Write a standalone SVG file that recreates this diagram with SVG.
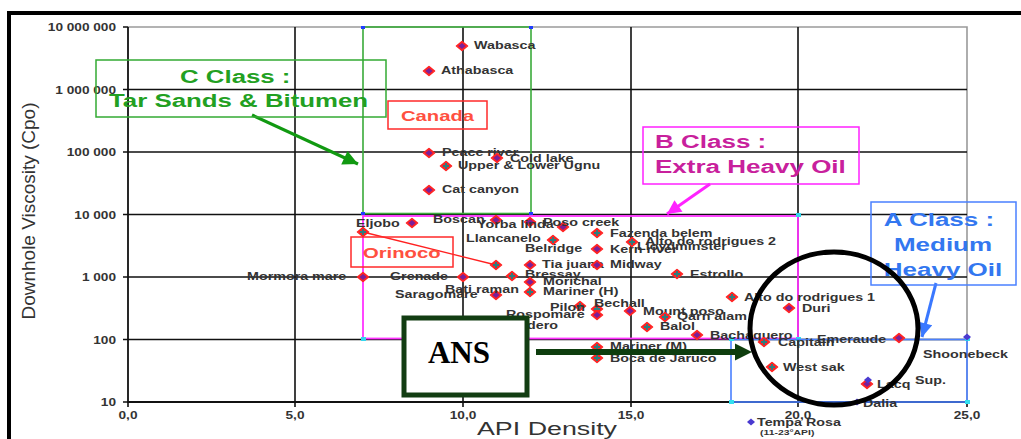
<svg xmlns="http://www.w3.org/2000/svg" xmlns:xlink="http://www.w3.org/1999/xlink" width="1021" height="439" viewBox="0 0 1021 439">
  <style>
    .tk { font: bold 10.5px "Liberation Sans", Arial, sans-serif; fill: #333; }
    .lb { font: bold 11px "Liberation Sans", Arial, sans-serif; fill: #333; }
    .lbs { font: bold 8px "Liberation Sans", Arial, sans-serif; fill: #333; }
    .grid { stroke: #111; stroke-width: 1.6; fill: none; }
    .cls { font-family: "Liberation Sans", Arial, sans-serif; font-weight: bold; font-size: 19px; }
    .reg { font-family: "Liberation Sans", Arial, sans-serif; font-weight: bold; font-size: 15px; }
  </style>
  <defs>
    <!-- data point markers: red body with purple or teal core -->
    <g id="pp">
      <path d="M0,-4.5 L5.5,0 L0,4.5 L-5.5,0Z" fill="#ff2424" stroke="#ff2424" stroke-width="1.6" stroke-linejoin="round"/>
      <path d="M0,-3 L3.6,0 L0,3 L-3.6,0Z" fill="#7a1f9a"/>
    </g>
    <g id="pt">
      <path d="M0,-4.5 L5.5,0 L0,4.5 L-5.5,0Z" fill="#ff2424" stroke="#ff2424" stroke-width="1.6" stroke-linejoin="round"/>
      <path d="M-3,0H3M0,-3V3" stroke="#2a7f80" stroke-width="1.8"/>
    </g>
    <path id="pb" d="M0,-3.5 L4,0 L0,3.5 L-4,0Z" fill="#4a3ad0"/>
    <marker id="ah-c" viewBox="0 0 10 10" refX="10" refY="5" markerWidth="18" markerHeight="15" markerUnits="userSpaceOnUse" orient="auto">
      <path d="M0,0 L10,5 L0,10Z" fill="#119911"/>
    </marker>
    <marker id="ah-b" viewBox="0 0 10 10" refX="10" refY="5" markerWidth="15" markerHeight="14" markerUnits="userSpaceOnUse" orient="auto">
      <path d="M0,0 L10,5 L0,10Z" fill="#ff22ff"/>
    </marker>
    <marker id="ah-a" viewBox="0 0 10 10" refX="10" refY="5" markerWidth="17" markerHeight="14" markerUnits="userSpaceOnUse" orient="auto">
      <path d="M0,0 L10,5 L0,10Z" fill="#3a78ff"/>
    </marker>
    <marker id="ah-ans" viewBox="0 0 10 10" refX="5.9" refY="5" markerWidth="17" markerHeight="18" markerUnits="userSpaceOnUse" orient="auto">
      <path d="M0,0 L10,5 L0,10Z" fill="#0e3d0e"/>
    </marker>
  </defs>

  <rect width="1021" height="439" fill="#fff"/>
  <!-- outer frame -->
  <path d="M9,439 V13 H1021" fill="none" stroke="#000" stroke-width="4"/>

  <!-- chart grid and axes -->
  <g id="axes">
    <path d="M128,27 H967 V402" fill="none" stroke="#9a9a9a" stroke-width="1.6"/>
    <path class="grid" d="M128,89.5H967M128,152H967M128,214.5H967M128,277H967M128,339.5H967"/>
    <path class="grid" d="M295,27V402M463,27V402M631,27V402M798,27V402"/>
    <path d="M128,27V402H967" fill="none" stroke="#111" stroke-width="1.8"/>
    <path d="M123,27H128M123,89.5H128M123,152H128M123,214.5H128M123,277H128M123,339.5H128M123,402H128M128,402V407M295,402V407M463,402V407M631,402V407M798,402V407M967,402V407" stroke="#111" stroke-width="1.6"/>
    <g class="tk" text-anchor="end">
      <text transform="translate(116 31) scale(1.3 1)">10 000 000</text>
      <text transform="translate(116 93.5) scale(1.3 1)">1 000 000</text>
      <text transform="translate(116 156) scale(1.3 1)">100 000</text>
      <text transform="translate(116 218.5) scale(1.3 1)">10 000</text>
      <text transform="translate(116 281) scale(1.3 1)">1 000</text>
      <text transform="translate(116 343.5) scale(1.3 1)">100</text>
      <text transform="translate(116 406) scale(1.3 1)">10</text>
    </g>
    <g class="tk" text-anchor="middle">
      <text transform="translate(128 419) scale(1.3 1)">0,0</text>
      <text transform="translate(295 419) scale(1.3 1)">5,0</text>
      <text transform="translate(463 419) scale(1.3 1)">10,0</text>
      <text transform="translate(631 419) scale(1.3 1)">15,0</text>
      <text transform="translate(798 419) scale(1.3 1)">20,0</text>
      <text transform="translate(967 419) scale(1.3 1)">25,0</text>
    </g>
    <text x="547" y="435" text-anchor="middle" textLength="140" lengthAdjust="spacingAndGlyphs" font-family="Liberation Sans, Arial, sans-serif" font-size="18" fill="#333">API Density</text>
    <text transform="translate(35 211) rotate(-90)" text-anchor="middle" textLength="217" lengthAdjust="spacingAndGlyphs" font-family="Liberation Sans, Arial, sans-serif" font-size="18" fill="#333">Downhole Viscosity (Cpo)</text>
  </g>

  <!-- class regions -->
  <g id="region-c">
    <rect x="363" y="27" width="168" height="186.5" fill="none" stroke="#3aaa3a" stroke-width="1.6"/>
    <path d="M361,26h4v3h-4zM529,26h4v3h-4zM361,212h4v3h-4zM529,212h4v3h-4z" fill="#1f3cff"/>
  </g>
  <g id="region-b">
    <rect x="363" y="216" width="435" height="122.5" fill="none" stroke="#ff33ff" stroke-width="1.8"/>
    <path d="M796,213h5v4h-5zM361,337h5v4h-5zM796,337h5v4h-5z" fill="#33d6ee"/>
  </g>
  <g id="region-a">
    <rect x="731" y="339.5" width="236" height="62.5" fill="none" stroke="#4a80ff" stroke-width="1.6"/>
    <path d="M729,337h5v4h-5zM965,337h5v4h-5zM729,400h5v4h-5zM965,400h5v4h-5z" fill="#33e0f0"/>
  </g>

  <!-- connectors -->
  <g id="connectors" fill="none">
    <line x1="363" y1="232" x2="496" y2="265" stroke="#ff2020" stroke-width="1.3"/>
    <line x1="252" y1="115" x2="358" y2="164" stroke="#119911" stroke-width="3.2" marker-end="url(#ah-c)"/>
    <line x1="710" y1="184" x2="667" y2="214" stroke="#ff22ff" stroke-width="3" marker-end="url(#ah-b)"/>
    <line x1="936" y1="283" x2="922" y2="337" stroke="#3a78ff" stroke-width="3" marker-end="url(#ah-a)"/>
  </g>

  <!-- oil fields -->
  <g id="fields">
    <g id="wabasca"><use href="#pp" x="462" y="46"/><text class="lb" transform="translate(474 49) scale(1.3 1)">Wabasca</text></g>
    <g id="athabasca"><use href="#pp" x="429" y="71"/><text class="lb" transform="translate(441 74) scale(1.3 1)">Athabasca</text></g>
    <g id="peace-river"><use href="#pp" x="429" y="153"/><text class="lb" transform="translate(442 156) scale(1.3 1)">Peace river</text></g>
    <g id="cold-lake"><use href="#pp" x="497" y="158"/><text class="lb" transform="translate(510 162) scale(1.3 1)">Cold lake</text></g>
    <g id="ugnu"><use href="#pt" x="446" y="166"/><text class="lb" transform="translate(458 169) scale(1.3 1)">Upper &amp; Lower Ugnu</text></g>
    <g id="cat-canyon"><use href="#pp" x="429" y="190"/><text class="lb" transform="translate(442 193) scale(1.3 1)">Cat canyon</text></g>
    <g id="boscan"><use href="#pp" x="496" y="220"/><text class="lb" transform="translate(433 223) scale(1.3 1)">Boscan</text></g>
    <g id="eljobo"><use href="#pp" x="412" y="223"/><text class="lb" transform="translate(356 227) scale(1.3 1)">Eljobo</text></g>
    <g id="orinoco-a"><use href="#pt" x="363" y="232"/></g>
    <g id="orinoco-b"><use href="#pt" x="496" y="265"/></g>
    <g id="yorba-linda"><use href="#pp" x="530" y="222"/><text class="lb" transform="translate(477 228) scale(1.3 1)">Yorba linda</text></g>
    <g id="poso-creek"><use href="#pp" x="563" y="227"/><text class="lb" transform="translate(543 226) scale(1.3 1)">Poso creek</text></g>
    <g id="fazenda-belem"><use href="#pt" x="597" y="233"/><text class="lb" transform="translate(610 237) scale(1.3 1)">Fazenda belem</text></g>
    <g id="llancanelo"><use href="#pt" x="553" y="240"/><text class="lb" transform="translate(466 242) scale(1.3 1)">Llancanelo</text></g>
    <g id="alto-2"><use href="#pt" x="632" y="242"/><text class="lb" transform="translate(645 245) scale(1.3 1)">Alto do rodrigues 2</text></g>
    <g id="belridge"><use href="#pp" x="597" y="249"/><text class="lb" transform="translate(525 252) scale(1.3 1)">Belridge</text></g>
    <g id="kern-river"><text class="lb" transform="translate(610 253) scale(1.3 1)">Kern river</text></g>
    <g id="lloydminster"><text class="lb" transform="translate(637 250) scale(1.3 1)">Lloydminster</text></g>
    <g id="tia-juana"><use href="#pp" x="530" y="265"/><text class="lb" transform="translate(542 268) scale(1.3 1)">Tia juana</text></g>
    <g id="midway"><use href="#pp" x="597" y="265"/><text class="lb" transform="translate(610 268) scale(1.3 1)">Midway</text></g>
    <g id="mormora-mare"><use href="#pp" x="363" y="277"/><text class="lb" transform="translate(247 280) scale(1.3 1)">Mormora mare</text></g>
    <g id="grenade"><use href="#pp" x="463" y="277"/><text class="lb" transform="translate(390 280) scale(1.3 1)">Grenade</text></g>
    <g id="bressay"><use href="#pt" x="512" y="276"/><text class="lb" transform="translate(525 278) scale(1.3 1)">Bressay</text></g>
    <g id="morichal"><use href="#pp" x="530" y="282"/><text class="lb" transform="translate(543 285) scale(1.3 1)">Morichal</text></g>
    <g id="mariner-h"><use href="#pt" x="530" y="292"/><text class="lb" transform="translate(543 295) scale(1.3 1)">Mariner (H)</text></g>
    <g id="bati-raman"><use href="#pp" x="496" y="295"/><text class="lb" transform="translate(445 293) scale(1.3 1)">Bati raman</text></g>
    <g id="saragomare"><text class="lb" transform="translate(395 298) scale(1.3 1)">Saragomare</text></g>
    <g id="pilon"><use href="#pt" x="580" y="306"/><text class="lb" transform="translate(550 311) scale(1.3 1)">Pilon</text></g>
    <g id="bechall"><use href="#pt" x="597" y="309"/><use href="#pp" x="597" y="315"/><text class="lb" transform="translate(594 307) scale(1.3 1)">Bechall</text></g>
    <g id="rospomare"><text class="lb" transform="translate(506 318) scale(1.3 1)">Rospomare</text></g>
    <g id="mount-poso"><use href="#pp" x="630" y="311"/><text class="lb" transform="translate(643 315) scale(1.3 1)">Mount poso</text></g>
    <g id="qarn-alam"><use href="#pt" x="665" y="317"/><text class="lb" transform="translate(677 320) scale(1.3 1)">Qarn alam</text></g>
    <g id="balol"><use href="#pt" x="647" y="327"/><text class="lb" transform="translate(660 330) scale(1.3 1)">Balol</text></g>
    <g id="dero"><text class="lb" transform="translate(527 329) scale(1.3 1)">dero</text></g>
    <g id="bachaquero"><use href="#pp" x="697" y="335"/><text class="lb" transform="translate(710 339) scale(1.3 1)">Bachaquero</text></g>
    <g id="mariner-m"><use href="#pt" x="597" y="347"/><text class="lb" transform="translate(610 350) scale(1.3 1)">Mariner (M)</text></g>
    <g id="boca-de-jaruco"><use href="#pt" x="597" y="358"/><text class="lb" transform="translate(610 362) scale(1.3 1)">Boca de Jaruco</text></g>
    <g id="estrollo"><use href="#pt" x="677" y="274"/><text class="lb" transform="translate(690 278) scale(1.3 1)">Estrollo</text></g>
    <g id="alto-1"><use href="#pt" x="732" y="297"/><text class="lb" transform="translate(744 301) scale(1.3 1)">Alto do rodrigues 1</text></g>
    <g id="duri"><use href="#pp" x="789" y="308"/><text class="lb" transform="translate(802 312) scale(1.3 1)">Duri</text></g>
    <g id="capitain"><use href="#pt" x="764" y="342"/><text class="lb" transform="translate(778 346) scale(1.3 1)">Capitain</text></g>
    <g id="west-sak"><use href="#pt" x="772" y="367"/><text class="lb" transform="translate(783 371) scale(1.3 1)">West sak</text></g>
    <g id="emeraude"><use href="#pp" x="899" y="338"/><text class="lb" transform="translate(817 343) scale(1.3 1)">Emeraude</text></g>
    <g id="shoonebeck"><use href="#pb" x="967" y="337"/><text class="lb" transform="translate(923 358) scale(1.3 1)">Shoonebeck</text></g>
    <g id="lacq"><use href="#pp" x="867" y="384"/><use href="#pb" x="868" y="380"/><text class="lb" transform="translate(877 388) scale(1.3 1)">Lacq</text><text class="lb" transform="translate(915 384) scale(1.3 1)">Sup.</text></g>
    <g id="dalia"><use href="#pb" x="857" y="402"/><text class="lb" transform="translate(863 407) scale(1.3 1)">Dalia</text></g>
    <g id="tempa-rosa"><use href="#pb" x="751" y="422"/><text class="lb" transform="translate(757 426) scale(1.3 1)">Tempa Rosa</text><text class="lbs" transform="translate(760 435) scale(1.3 1)">(11-23°API)</text></g>
  </g>

  <!-- class labels -->
  <g id="class-c">
    <rect x="96" y="60" width="290" height="57" fill="none" stroke="#33aa33" stroke-width="1.5"/>
    <g class="cls" fill="#22a022">
      <text transform="translate(180 83) scale(1.36 1)">C Class :</text>
      <text transform="translate(109 107) scale(1.36 1)">Tar Sands &amp; Bitumen</text>
    </g>
  </g>
  <g id="canada">
    <rect x="388" y="101" width="99" height="28" fill="none" stroke="#ff2a2a" stroke-width="1.5"/>
    <text class="reg" fill="#ff5040" transform="translate(401 121) scale(1.35 1)">Canada</text>
  </g>
  <g id="orinoco">
    <rect x="351" y="237" width="102" height="30" fill="none" stroke="#ff2a2a" stroke-width="1.5"/>
    <text class="reg" fill="#ff5040" transform="translate(363 258) scale(1.35 1)">Orinoco</text>
  </g>
  <g id="class-b">
    <rect x="643" y="127" width="216" height="57" fill="none" stroke="#ff22ff" stroke-width="1.5"/>
    <g class="cls" fill="#c8209c">
      <text transform="translate(655 148) scale(1.37 1)">B Class :</text>
      <text transform="translate(655 173) scale(1.37 1)">Extra Heavy Oil</text>
    </g>
  </g>
  <g id="class-a">
    <rect x="871" y="202" width="145" height="83" fill="none" stroke="#4a80ff" stroke-width="1.5"/>
    <g class="cls" fill="#3377f0" text-anchor="middle">
      <text transform="translate(939 226) scale(1.37 1)">A Class :</text>
      <text transform="translate(943 251) scale(1.37 1)">Medium</text>
      <text transform="translate(943 276) scale(1.37 1)">Heavy Oil</text>
    </g>
  </g>

  <!-- ANS callout -->
  <g id="ans">
    <rect x="404" y="318" width="123" height="77" fill="#fff" stroke="#123d12" stroke-width="5"/>
    <text x="459" y="363" text-anchor="middle" font-family="Liberation Serif, 'Times New Roman', serif" font-weight="bold" font-size="31" fill="#000">ANS</text>
  </g>
  <g id="ans-connector">
    <line x1="536" y1="352" x2="745" y2="352" stroke="#0e3d0e" stroke-width="6" marker-end="url(#ah-ans)"/>
  </g>
  <ellipse id="focus" cx="834" cy="328.5" rx="84" ry="76.5" fill="none" stroke="#000" stroke-width="5"/>
</svg>
